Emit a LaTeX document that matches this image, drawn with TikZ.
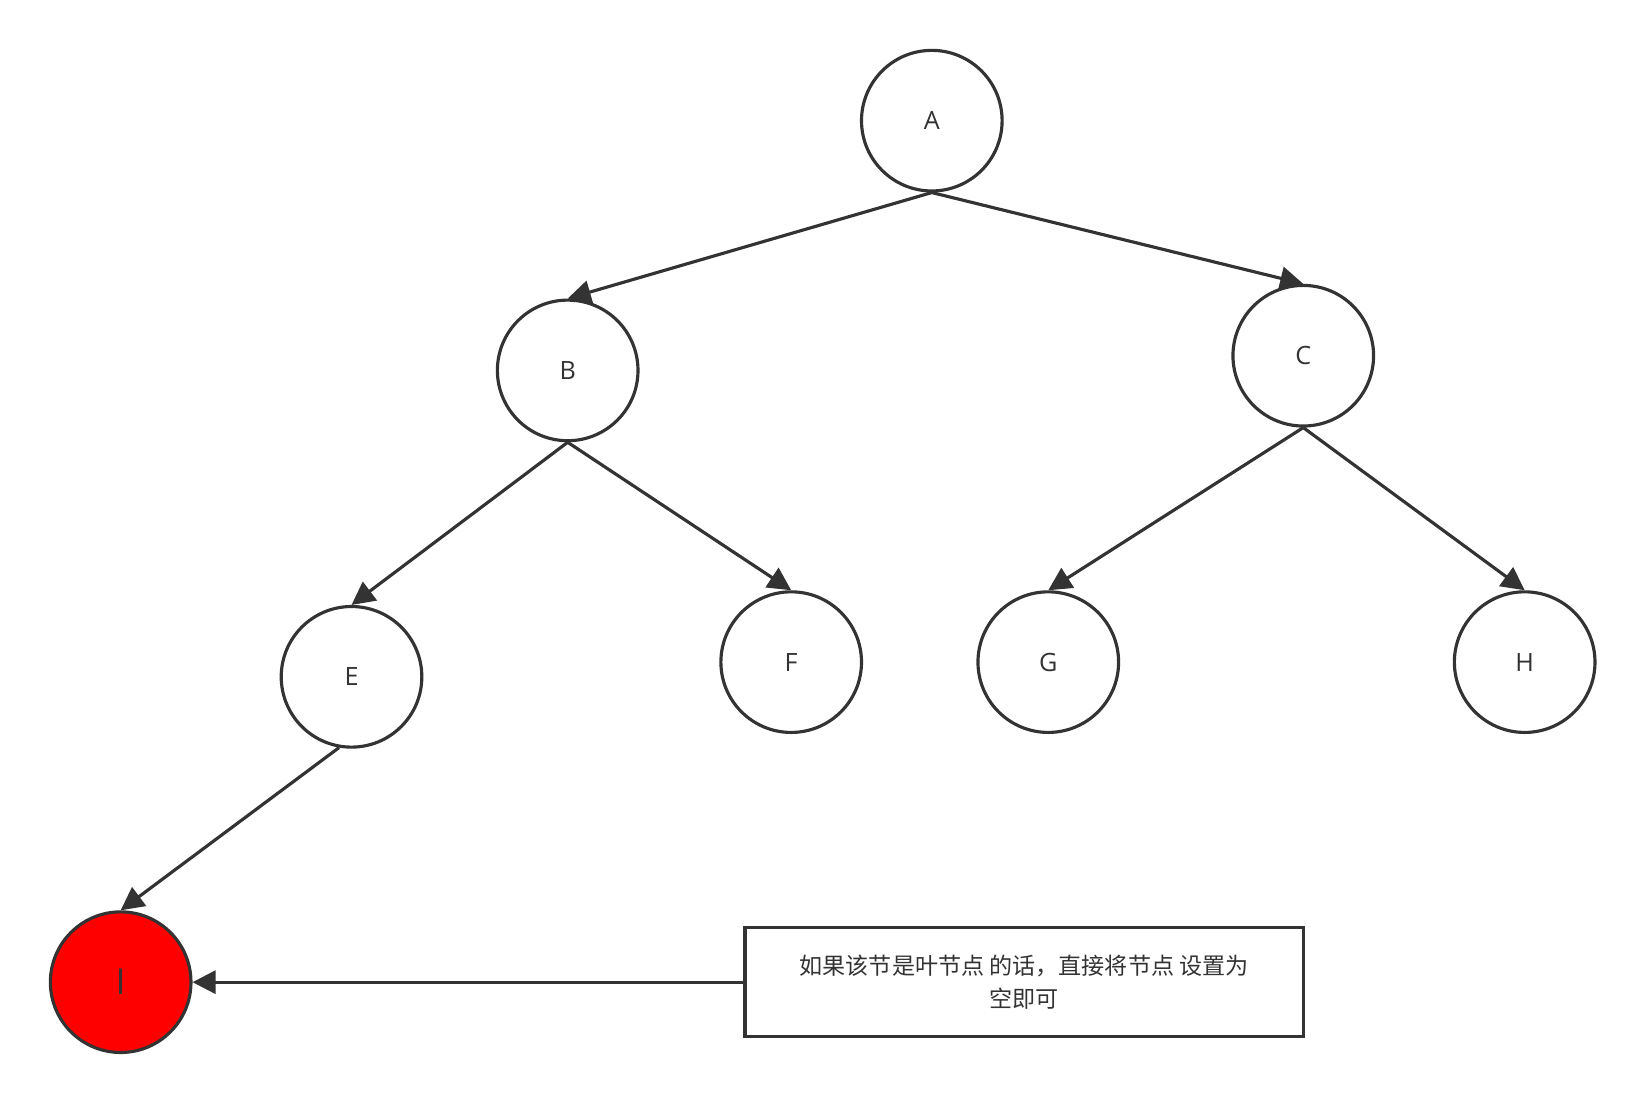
\documentclass[tikz,border=0pt]{standalone}
\usepackage{fontspec}
\setmainfont{Open Sans}
\newfontfamily\cjk{Noto Sans CJK SC}
\usetikzlibrary{arrows.meta}
\definecolor{ln}{HTML}{333333}
\begin{document}
\begin{tikzpicture}[x=1pt,y=-1pt,
  tnode/.style={circle,draw=ln,line width=3pt,minimum size=134pt,inner sep=0pt,font=\fontsize{24}{28}\selectfont,text=ln},
  edge/.style={draw=ln,line width=3pt,-{Triangle[length=22pt,width=22pt]}}]
\useasboundingbox (0,0) rectangle (1561,1046);
\node[tnode] (A) at (888,115) {A};
\node[tnode] (B) at (541,353) {B};
\node[tnode] (C) at (1242,339) {C};
\node[tnode] (E) at (335,645) {E};
\node[tnode] (F) at (754,631) {F};
\node[tnode] (G) at (999,631) {G};
\node[tnode] (H) at (1453,631) {H};
\node[tnode,fill=red,font=\fontsize{34}{38}\selectfont] (I) at (115,936) {I};
\node[draw=ln,line width=3pt,minimum width=532pt,minimum height=104pt,align=center,font=\cjk\fontsize{22}{31}\selectfont,text=ln] (N) at (976,936) {如果该节是叶节点 的话，直接将节点 设置为\\空即可};
\draw[edge] (A.south) -- (B.north);
\draw[edge] (A.south) -- (C.north);
\draw[edge] (B.south) -- (E.north);
\draw[edge] (B.south) -- (F.north);
\draw[edge] (C.south) -- (G.north);
\draw[edge] (C.south) -- (H.north);
\draw[edge] (E.-100) -- (I.north);
\draw[edge] (N.west) -- (I.east);
\end{tikzpicture}
\end{document}
